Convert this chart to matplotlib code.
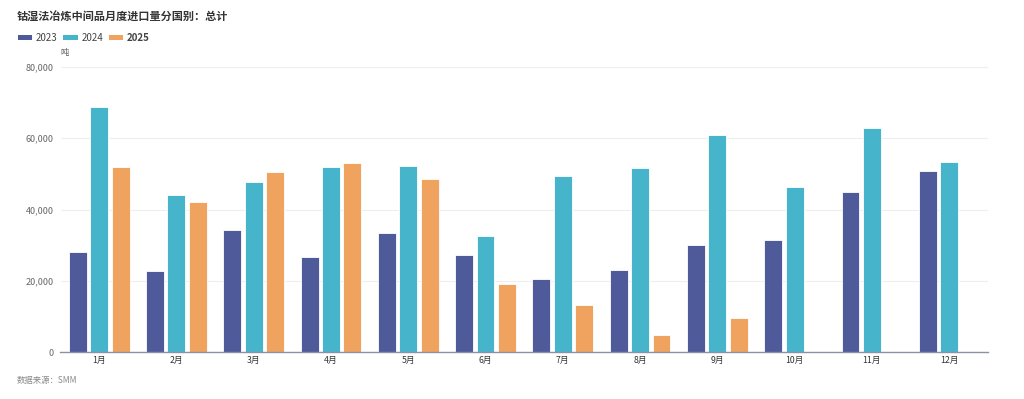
import matplotlib
matplotlib.use("Agg")
import matplotlib.pyplot as plt
import numpy as np
from matplotlib.patches import Patch

plt.rcParams['font.family'] = ['Noto Sans CJK SC', 'DejaVu Sans']

months = ["1月", "2月", "3月", "4月", "5月", "6月", "7月", "8月", "9月", "10月", "11月", "12月"]
v2023 = [28000, 22600, 34300, 26800, 33400, 27200, 20500, 23000, 29900, 31300, 44800, 50700]
v2024 = [68800, 44000, 47700, 52000, 52200, 32600, 49400, 51600, 60900, 46300, 62800, 53200]
v2025 = [51900, 42000, 50400, 53000, 48600, 19100, 13200, 4800, 9500, np.nan, np.nan, np.nan]
series = [("2023", v2023, "#4e5a99"), ("2024", v2024, "#46b5cc"), ("2025", v2025, "#f0a35e")]
yticks = [0, 20000, 40000, 60000, 80000]

fig = plt.figure(figsize=(10.24, 3.99), dpi=100)
ax = fig.add_axes([60.5/1024, 1-352/399, 927.3/1024, 285/399])

x = np.arange(len(months))
bw = 0.232
step = 0.277
for i, (name, vals, col) in enumerate(series):
    ax.bar(x + (i-1)*step, vals, width=bw, color=col, edgecolor="white", linewidth=0.6)

ax.set_xlim(-0.5, len(months)-0.5)
ax.set_ylim(0, 80000)
ax.set_yticks(yticks)
ax.set_yticklabels([f"{t:,}" for t in yticks], fontsize=6.5, color="#666666")
ax.set_xticks(x)
ax.set_xticklabels(months, fontsize=6.3, color="#333333")
ax.tick_params(axis='y', length=0, pad=5)
ax.tick_params(axis='x', length=0, pad=3)
ax.grid(axis='y', color="#eeeeee", linewidth=0.8)
ax.set_axisbelow(True)
for s in ["top", "right", "left"]:
    ax.spines[s].set_visible(False)
ax.spines["bottom"].set_color("#8c91a8")
ax.spines["bottom"].set_linewidth(1.0)

fig.text(17/1024, 1-17/399, "钴湿法冶炼中间品月度进口量分国别：总计", fontsize=8, fontweight="bold",
         color="#333333", va="center", ha="left")
fig.text(60/1024, 1-52/399, "吨", fontsize=6, color="#555555", va="center", ha="left")
fig.text(17/1024, 1-381/399, "数据来源：SMM", fontsize=6, color="#888888", style="italic",
         va="center", ha="left")

handles = [Patch(facecolor=c, edgecolor="none") for _, _, c in series]
leg = fig.legend(handles, [n for n, _, _ in series], loc="center left",
                 bbox_to_anchor=(15/1024, 1-38/399), ncol=3, frameon=False,
                 fontsize=7, handlelength=1.45, handleheight=0.55, handletextpad=0.4,
                 columnspacing=0.6, borderaxespad=0, borderpad=0.3)
for t in leg.get_texts():
    t.set_color("#444444")
leg.get_texts()[2].set_fontweight("bold")

fig.savefig("out.png", dpi=100)
